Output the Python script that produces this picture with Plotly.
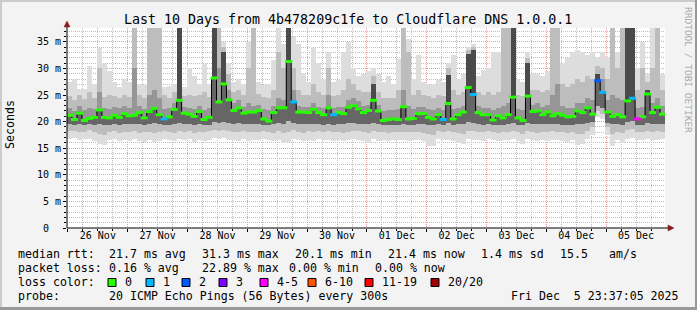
import plotly.graph_objects as go

# ---------------- data ----------------
day_labels = ["26 Nov", "27 Nov", "28 Nov", "29 Nov", "30 Nov",
              "01 Dec", "02 Dec", "03 Dec", "04 Dec", "05 Dec"]
y_tick_vals = [0, 5, 10, 15, 20, 25, 30, 35]
y_tick_text = ["0\u00a0\u00a0", "5 m", "10 m", "15 m", "20 m", "25 m", "30 m", "35 m"]

# median rtt per 2-hour column (ms)
median_ms = [
    21.2, 20.4, 21.6, 20.2, 20.6, 20.8, 22.2, 20.8, 20.7, 21.2, 20.8, 21.5,
    21.1, 21.2, 21.7, 20.7, 21.9, 22.5, 21.3, 20.5, 20.9, 22.3, 24.0, 21.6,
    21.4, 21.0, 21.9, 20.4, 20.8, 28.2, 23.7, 27.1, 24.1, 22.1, 22.6, 21.6,
    21.8, 21.8, 22.1, 20.5, 20.1, 21.7, 22.6, 22.6, 31.3, 23.7, 21.8, 21.8,
    21.7, 22.3, 21.7, 21.3, 22.6, 21.3, 21.7, 21.5, 22.7, 23.0, 22.4, 21.7,
    22.1, 24.0, 22.0, 20.2, 20.4, 20.5, 20.4, 22.8, 20.5, 20.6, 21.5, 21.5,
    20.8, 20.5, 21.3, 20.4, 23.4, 20.5, 21.3, 21.8, 26.4, 25.1, 21.7, 21.3,
    21.3, 20.3, 21.1, 20.7, 21.3, 24.6, 20.7, 20.2, 24.8, 21.9, 22.0, 21.3,
    21.8, 21.1, 21.5, 21.2, 20.9, 21.0, 22.0, 21.7, 22.6, 21.4, 27.7, 25.5,
    21.8, 21.0, 21.3, 20.9, 23.9, 24.4, 20.5, 20.9, 25.2, 21.7, 22.7, 21.4]

# loss category per column (index into loss_labels)
loss_cat = [0] * 120
for _i, _c in [(19, 1), (45, 1), (53, 1), (75, 1), (81, 1), (106, 2), (107, 1), (113, 1), (114, 4)]:
    loss_cat[_i] = _c

smoke_lo = [
    16.8, 16.9, 16.5, 16.7, 16.8, 16.4, 15.8, 15.6, 16.5, 16.8, 16.3, 16.6,
    16.4, 16.8, 16.3, 16.2, 16.5, 16.2, 16.4, 16.7, 16.5, 16.4, 16.7, 16.5,
    16.8, 16.2, 16.6, 16.4, 16.6, 17.0, 16.8, 16.9, 16.5, 16.6, 16.3, 16.7,
    16.4, 16.6, 16.5, 16.8, 16.5, 16.3, 16.6, 16.0, 16.2, 16.8, 16.5, 16.3,
    16.6, 16.4, 16.7, 16.5, 16.6, 16.4, 16.6, 16.3, 16.5, 16.7, 16.6, 16.4,
    16.0, 16.8, 16.4, 16.6, 16.3, 16.5, 16.6, 16.5, 16.4, 16.6, 16.5, 16.3,
    15.5, 15.4, 16.7, 16.5, 16.6, 16.4, 16.0, 15.8, 16.7, 16.5, 16.6, 16.4,
    16.7, 16.5, 16.3, 16.6, 16.5, 16.8, 16.4, 15.8, 16.7, 16.5, 16.3, 16.6,
    16.4, 16.6, 16.5, 16.4, 16.2, 16.5, 15.6, 15.7, 16.8, 17.5, 21.0, 20.5,
    17.5, 15.5, 16.5, 16.0, 16.8, 16.9, 16.5, 16.6, 16.7, 16.5, 16.6, 16.8]
smoke_lo2 = [
    18.2, 18.3, 18.0, 18.1, 18.4, 18.0, 17.6, 17.5, 18.0, 18.3, 17.9, 18.1,
    18.0, 18.2, 17.9, 18.1, 18.0, 17.8, 18.0, 18.2, 18.1, 17.9, 18.3, 18.0,
    18.3, 17.8, 18.1, 18.0, 18.2, 18.5, 18.3, 18.5, 18.2, 18.1, 18.0, 18.2,
    18.0, 18.1, 18.0, 18.3, 18.1, 17.9, 18.2, 17.8, 18.0, 18.4, 18.0, 17.9,
    18.2, 18.0, 18.2, 18.0, 18.2, 18.0, 18.1, 17.9, 18.0, 18.3, 18.2, 18.0,
    17.8, 18.3, 18.0, 18.1, 17.9, 18.0, 18.1, 18.0, 18.0, 18.1, 18.0, 17.9,
    17.6, 17.5, 18.2, 18.0, 18.2, 18.0, 17.8, 17.6, 18.3, 18.2, 18.1, 18.0,
    18.2, 18.0, 17.9, 18.1, 18.0, 18.3, 18.0, 17.7, 18.3, 18.0, 17.9, 18.1,
    18.0, 18.2, 18.0, 18.0, 17.8, 18.0, 17.6, 17.6, 18.3, 19.0, 22.0, 21.5,
    19.0, 17.6, 18.0, 17.8, 18.5, 18.6, 18.0, 18.1, 18.3, 18.0, 18.2, 18.0]
smoke_lo3 = [
    19.5, 19.4, 19.6, 19.3, 19.5, 19.4, 19.6, 19.4, 19.3, 19.6, 19.4, 19.5,
    19.5, 19.6, 19.5, 19.4, 19.6, 19.7, 19.5, 19.3, 19.4, 19.6, 19.8, 19.5,
    19.5, 19.4, 19.6, 19.3, 19.4, 20.0, 19.8, 20.0, 19.8, 19.6, 19.7, 19.5,
    19.5, 19.5, 19.6, 19.4, 19.3, 19.5, 19.7, 19.6, 20.2, 19.8, 19.5, 19.5,
    19.5, 19.6, 19.5, 19.4, 19.6, 19.4, 19.5, 19.5, 19.7, 19.8, 19.6, 19.5,
    19.6, 19.8, 19.5, 19.3, 19.3, 19.3, 19.3, 19.5, 19.3, 19.4, 19.5, 19.5,
    19.4, 19.3, 19.5, 19.3, 19.7, 19.3, 19.5, 19.5, 19.9, 19.8, 19.5, 19.4,
    19.5, 19.3, 19.4, 19.4, 19.5, 19.8, 19.4, 19.3, 19.8, 19.5, 19.6, 19.5,
    19.5, 19.5, 19.5, 19.4, 19.4, 19.4, 19.5, 19.5, 19.7, 20.0, 23.0, 22.5,
    19.8, 19.5, 19.5, 19.4, 20.0, 20.2, 19.3, 19.4, 19.8, 19.5, 19.6, 19.5]
smoke_hi3 = [
    22.6, 22.0, 23.0, 22.2, 22.5, 22.4, 25.5, 22.6, 22.4, 22.8, 22.5, 23.0,
    22.6, 30.0, 23.0, 22.4, 25.0, 26.0, 24.5, 22.4, 22.5, 23.5, 25.0, 22.8,
    22.6, 22.4, 23.0, 22.2, 22.5, 30.0, 30.0, 30.0, 26.0, 23.5, 24.0, 22.8,
    23.5, 23.0, 23.2, 22.4, 22.2, 23.0, 24.5, 24.0, 30.0, 26.0, 23.0, 22.8,
    22.8, 23.5, 22.8, 22.6, 25.0, 22.5, 22.8, 22.8, 24.0, 24.5, 23.8, 23.0,
    23.2, 25.0, 23.2, 22.0, 22.2, 22.2, 22.4, 26.0, 23.0, 22.3, 22.8, 22.8,
    22.4, 22.2, 22.6, 22.2, 25.0, 22.4, 22.6, 23.0, 28.0, 28.0, 23.0, 22.6,
    22.6, 22.2, 22.5, 23.0, 23.5, 30.0, 22.4, 22.2, 27.0, 23.2, 23.5, 22.8,
    23.2, 25.0, 27.0, 23.0, 22.5, 22.6, 23.5, 23.5, 24.5, 24.0, 29.0, 28.0,
    24.0, 25.0, 24.5, 24.0, 30.0, 30.0, 22.5, 22.8, 25.0, 23.5, 24.5, 23.0]
smoke_hi2 = [
    24.8, 24.0, 25.0, 24.2, 25.5, 24.5, 30.0, 24.6, 25.0, 24.8, 24.4, 25.0,
    24.6, 37.6, 25.0, 24.5, 37.6, 37.6, 37.6, 25.0, 24.5, 25.5, 30.0, 24.8,
    25.0, 24.8, 25.0, 25.5, 24.6, 37.6, 37.6, 34.0, 29.0, 25.5, 26.0, 25.0,
    30.0, 37.6, 25.2, 24.6, 24.5, 26.0, 33.0, 30.0, 37.6, 30.0, 26.0, 25.0,
    25.0, 27.0, 25.5, 25.0, 30.0, 24.8, 25.0, 26.0, 28.0, 27.0, 26.0, 25.5,
    25.5, 28.5, 25.5, 24.5, 24.5, 24.5, 26.0, 37.6, 33.0, 25.0, 26.0, 25.0,
    24.8, 24.5, 25.0, 24.8, 30.0, 26.0, 25.0, 25.5, 33.5, 34.0, 25.5, 25.0,
    25.5, 25.0, 25.5, 37.6, 37.6, 37.6, 25.0, 24.8, 32.0, 26.0, 26.0, 25.5,
    26.0, 37.6, 37.6, 27.0, 26.5, 27.0, 28.0, 27.5, 28.5, 28.0, 30.5, 30.0,
    28.0, 37.6, 30.0, 37.6, 37.6, 37.6, 26.0, 30.0, 27.5, 30.0, 37.6, 26.0]
smoke_hi = [
    27.5, 28.0, 26.0, 26.2, 30.5, 27.0, 33.8, 31.0, 29.5, 27.5, 26.5, 28.0,
    27.4, 37.6, 27.0, 26.8, 37.6, 37.6, 37.6, 26.5, 26.7, 27.0, 37.6, 26.5,
    30.0, 28.5, 27.0, 31.0, 27.0, 37.6, 37.6, 35.0, 31.0, 27.5, 28.0, 27.0,
    35.0, 37.6, 27.5, 26.8, 27.0, 31.5, 37.6, 34.5, 37.6, 36.0, 34.5, 29.0,
    27.5, 34.0, 31.0, 28.0, 33.0, 27.5, 27.8, 33.0, 35.0, 30.0, 28.5, 29.0,
    29.5, 30.0, 29.0, 27.5, 28.5, 27.0, 31.8, 37.6, 35.5, 28.0, 32.5, 27.5,
    27.0, 26.8, 28.0, 27.5, 31.0, 32.5, 28.0, 29.0, 34.0, 34.5, 28.5, 29.7,
    30.0, 33.0, 33.0, 37.6, 37.6, 37.6, 28.0, 27.5, 33.0, 29.0, 29.0, 28.5,
    29.5, 37.6, 37.6, 31.0, 32.0, 33.0, 33.5, 33.0, 32.5, 33.0, 32.0, 33.0,
    32.0, 37.6, 33.0, 37.6, 37.6, 37.6, 30.0, 35.0, 29.0, 37.6, 37.6, 29.0]

# columns where all pings were high (dark spikes)
spike_cols = [22, 29, 31, 44, 61, 76, 80, 81, 89, 92, 106, 112, 113, 116]
spike_top = [37.6, 37.6, 33.0, 37.6, 27.0, 28.7, 32.8, 33.4, 37.6, 31.0, 29.0, 37.6, 37.6, 26.0]

loss_labels = ["0", "1", "2", "3", "4-5", "6-10", "11-19", "20/20"]
loss_colors = ["#26ff00", "#00b8ff", "#0059ff", "#7e00ff", "#ff00ff", "#ff5500", "#ff0000", "#a10000"]

# ---------------- geometry ----------------
W, H = 697, 310
L, T, PW, PH = 67, 28, 598, 200
def px(x):
    return (x - L) / PW
def py(y):
    return 1 - (y - T) / PH

n = len(median_ms)
step = 1 / 12.0                      # 2 hours, in days
start = -(22 * 60 + 55) / 86400.0    # Nov 25 23:37:05 relative to Nov 26 00:00 (days)
t = [start + (i + 0.5) * step for i in range(n)]

MONO = "DejaVu Sans Mono"
fig = go.Figure()

bands = [(smoke_lo, smoke_hi, "#dddddd"),
         (smoke_lo2, smoke_hi2, "#bdbdbd"),
         (smoke_lo3, smoke_hi3, "#969696"),
         (smoke_lo3, median_ms, "#666666")]
for lo, hi, col in bands:
    fig.add_trace(go.Bar(x=t, y=[h - l for l, h in zip(lo, hi)], base=lo, width=step,
                         marker=dict(color=col, line=dict(width=0)),
                         hoverinfo="skip", showlegend=False))

fig.add_trace(go.Bar(x=[t[i] for i in spike_cols],
                     y=[top - median_ms[i] for i, top in zip(spike_cols, spike_top)],
                     base=[median_ms[i] for i in spike_cols], width=step,
                     marker=dict(color="#4a4a4a", line=dict(width=0)),
                     hoverinfo="skip", showlegend=False))

fig.add_trace(go.Scatter(x=t, y=median_ms, mode="lines",
                         line=dict(color="black", width=1, shape="hvh"),
                         hoverinfo="skip", showlegend=False))

for k, col in enumerate(loss_colors):
    idx = [i for i in range(n) if loss_cat[i] == k]
    if not idx:
        continue
    fig.add_trace(go.Scatter(x=[t[i] for i in idx], y=[median_ms[i] for i in idx], mode="markers",
                             marker=dict(symbol="line-ew", size=5, line=dict(color=col, width=3)),
                             hoverinfo="skip", showlegend=False))

# invisible trace for the day-label axis
fig.add_trace(go.Scatter(x=[t[0]], y=[median_ms[0]], xaxis="x2", mode="markers",
                         marker=dict(opacity=0), hoverinfo="skip", showlegend=False))

xr = [start, start + 10]
GRID_MAJ = "#f09a9a"
GRID_MIN = "#bebebe"
fig.update_layout(
    width=W, height=H, autosize=False,
    margin=dict(l=L, r=W - L - PW, t=T, b=H - T - PH, pad=0),
    paper_bgcolor="#f3f3f3", plot_bgcolor="white",
    barmode="overlay", bargap=0, showlegend=False,
    xaxis=dict(range=xr, tickmode="linear", tick0=0, dtick=1, showticklabels=False,
               showgrid=True, gridcolor=GRID_MAJ, gridwidth=1, griddash="1px,1px",
               ticks="outside", ticklen=3, tickcolor="black", zeroline=False, showline=False,
               minor=dict(tickmode="linear", tick0=0, dtick=0.25, showgrid=True,
                          gridcolor=GRID_MIN, gridwidth=1, griddash="1px,1px",
                          ticks="outside", ticklen=2, tickcolor="black")),
    xaxis2=dict(overlaying="x", anchor="y", side="bottom", range=xr,
                tickmode="array", tickvals=[d + 0.5 for d in range(len(day_labels))],
                ticktext=day_labels, showgrid=False, zeroline=False, showline=False, ticks="",
                tickfont=dict(family=MONO, size=10, color="black")),
    yaxis=dict(range=[0, 37.6], tickmode="array", tickvals=y_tick_vals, ticktext=y_tick_text,
               showgrid=True, gridcolor=GRID_MAJ, gridwidth=1, griddash="1px,1px",
               ticks="outside", ticklen=3, tickcolor="black", zeroline=False, showline=False,
               tickfont=dict(family=MONO, size=10, color="black"),
               minor=dict(tickmode="linear", tick0=0, dtick=1, showgrid=True,
                          gridcolor=GRID_MIN, gridwidth=1, griddash="1px,1px",
                          ticks="outside", ticklen=2, tickcolor="black")),
)

anns = []
def text(s, x, y, size=11.6, anchor="left", color="black", angle=0):
    anns.append(dict(text=s.replace(" ", "\u00a0"), x=px(x), y=py(y), xref="paper", yref="paper",
                     xanchor=anchor, yanchor="middle", showarrow=False, textangle=angle,
                     font=dict(family=MONO, size=size, color=color)))

text("Last 10 Days from 4b478209c1fe to Cloudflare DNS 1.0.0.1", 348, 19, size=13.3, anchor="center")
text("Seconds", 10, 125, size=11.6, anchor="center", angle=-90)
text("RRDTOOL / TOBI OETIKER", 689, 70, size=9.5, anchor="center", color="#a8a8a8", angle=90)

row1 = [("median rtt:", 16), ("21.7 ms avg", 107.3), ("31.3 ms max", 200), ("20.1 ms min", 293.3),
        ("21.4 ms now", 386), ("1.4 ms sd", 479.3), ("15.5", 558.3), ("am/s", 607.3)]
row2 = [("packet loss:", 16), ("0.16 % avg", 107.3), ("22.89 % max", 200), ("0.00 % min", 287.3),
        ("0.00 % now", 372.7)]
for s, x in row1:
    text(s, x, 254)
for s, x in row2:
    text(s, x, 268)
text("loss color:", 16, 282)
box_x = [108, 146, 182, 219, 260, 308, 365, 431]
shapes = []
for lab, col, bx in zip(loss_labels, loss_colors, box_x):
    shapes.append(dict(type="rect", xref="paper", yref="paper", x0=px(bx), x1=px(bx + 8),
                       y0=py(286.5), y1=py(278.5), fillcolor=col, line=dict(color="black", width=1)))
    text(lab, bx + 15, 282)
text("probe:", 16, 296)
text("20 ICMP Echo Pings (56 Bytes) every 300s", 107.3, 296)
text("Fri Dec  5 23:37:05 2025", 681, 296, anchor="right")

# axes with arrows
shapes.append(dict(type="line", xref="paper", yref="paper", x0=px(67), x1=px(67), y0=py(228), y1=py(25),
                   line=dict(color="black", width=1)))
shapes.append(dict(type="line", xref="paper", yref="paper", x0=px(67), x1=px(669), y0=py(228), y1=py(228),
                   line=dict(color="black", width=1)))
shapes.append(dict(type="path", xref="paper", yref="paper",
                   path=f"M {px(64)},{py(27)} L {px(70)},{py(27)} L {px(67)},{py(21)} Z",
                   fillcolor="#8b1a1a", line=dict(color="#8b1a1a", width=0.5)))
shapes.append(dict(type="path", xref="paper", yref="paper",
                   path=f"M {px(668)},{py(225)} L {px(668)},{py(231)} L {px(674)},{py(228)} Z",
                   fillcolor="#8b1a1a", line=dict(color="#8b1a1a", width=0.5)))
# 3-D frame
for x0, x1, y0, y1, c in [(0, 2, 0, 310, "#cbcbcb"), (0, 697, 0, 2, "#cbcbcb"),
                          (695, 697, 0, 310, "#999999"), (0, 697, 307, 310, "#999999")]:
    shapes.append(dict(type="rect", xref="paper", yref="paper", x0=px(x0), x1=px(x1),
                       y0=py(y1), y1=py(y0), fillcolor=c, line=dict(width=0)))

fig.update_layout(annotations=anns, shapes=shapes)
fig.write_html("out.html")
